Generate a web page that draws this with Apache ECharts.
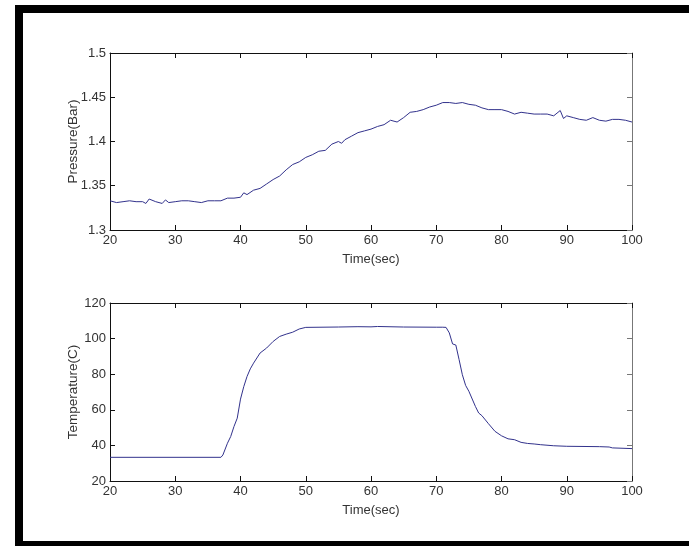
<!DOCTYPE html>
<html>
<head>
<meta charset="utf-8">
<script src="https://cdn.jsdelivr.net/npm/echarts@6/dist/echarts.min.js"></script>
<style>
    html, body { margin: 0; padding: 0; background: #fff; overflow: hidden; }
    #chart { width: 689px; height: 546px; }
</style>
</head>
<body>
<div id="chart"></div>
<script>
/* data */
const xTicks = [20, 100, 10];
const pressureTicks = [1.3, 1.5, 0.05];
const temperatureTicks = [20, 120, 20];

const pressureTime = [20, 21, 22, 23, 24, 25, 25.5, 26, 27, 28, 28.5, 29, 30, 31, 32, 33, 34, 35, 36, 37, 38, 39, 40, 40.5,
    41, 42, 43, 44, 45, 46, 47, 48, 49, 50, 51, 52, 53, 54, 55, 55.5,
    56, 57, 58, 59, 60, 61, 62, 63, 64, 65, 66, 67, 68, 69, 70, 71, 72, 73, 74, 75, 76, 77, 78, 79, 80,
    81, 82, 83, 84, 85, 86, 87, 88, 89, 89.5, 90, 91, 92, 93, 94, 95, 96, 97, 98, 99, 100];
const pressure = [1.333, 1.331, 1.332, 1.333, 1.332, 1.332, 1.330, 1.335, 1.332, 1.330, 1.334, 1.331, 1.332, 1.333, 1.333, 1.332, 1.331, 1.333, 1.333, 1.333, 1.336, 1.336, 1.337, 1.342,
    1.340, 1.345, 1.347, 1.352, 1.357, 1.361, 1.368, 1.374, 1.377, 1.382, 1.385, 1.389, 1.390, 1.397, 1.400, 1.398,
    1.402, 1.406, 1.410, 1.412, 1.414, 1.417, 1.419, 1.424, 1.422, 1.427, 1.433, 1.434, 1.436, 1.439, 1.441, 1.444, 1.444, 1.443, 1.444, 1.442, 1.441, 1.438, 1.436, 1.436, 1.436,
    1.434, 1.431, 1.433, 1.432, 1.431, 1.431, 1.431, 1.429, 1.435, 1.426, 1.429, 1.427, 1.425, 1.424, 1.427, 1.424, 1.423, 1.425, 1.425, 1.424, 1.422];

const tempTime = [20, 37, 37.3, 38, 38.5, 39, 39.5, 40, 40.5, 41, 41.5, 42, 43, 44, 45, 46, 47, 48, 49, 50,
    55, 58, 60, 61, 65, 70, 71, 71.5, 72, 72.5, 73, 73.5, 74, 74.5, 75,
    76, 76.5, 77, 78, 79, 80, 81, 82, 83, 84, 85, 86, 88, 90, 95, 96.5, 97, 100];
const temperature = [33.3, 33.3, 34.6, 41.2, 45, 50.6, 55.3, 66, 73, 78.7, 83, 86.2, 91.9, 94.7, 98.4, 101.2, 102.5, 103.6, 105.4, 106.3,
    106.5, 106.7, 106.6, 106.8, 106.5, 106.4, 106.4, 106.3, 103.2, 97, 96.4, 88.2, 79.7, 73.7, 70.4,
    61.9, 58.2, 56.7, 52.2, 47.9, 45.4, 43.7, 43.2, 41.7, 41.1, 40.8, 40.4, 39.8, 39.5, 39.3, 39.1, 38.6, 38.2];

const zip = (xs, ys) => xs.map((x, i) => [x, ys[i]]);

const labelFont = { color: '#333', fontFamily: '"Liberation Sans", Arial', fontSize: 13 };
const yNameFont = { color: '#333', fontFamily: '"Liberation Sans", Arial', fontSize: 13.5 };
const lineColor = '#32328c';

function xAxes(grid) {
    return [{
        gridIndex: grid, type: 'value', position: 'bottom',
        min: xTicks[0], max: xTicks[1], interval: xTicks[2],
        name: 'Time(sec)', nameLocation: 'middle', nameGap: 23, nameTextStyle: labelFont,
        axisLine: { onZero: false, lineStyle: { color: '#111', width: 1 } },
        axisTick: { inside: true, length: 5, lineStyle: { color: '#111' } },
        axisLabel: Object.assign({ margin: 4 }, labelFont),
        splitLine: { show: false },
    }, {
        gridIndex: grid, type: 'value', position: 'top',
        min: xTicks[0], max: xTicks[1], interval: xTicks[2],
        axisLine: { onZero: false, lineStyle: { color: '#111', width: 1 } },
        axisTick: { inside: true, length: 5, lineStyle: { color: '#111' } },
        axisLabel: { show: false },
        splitLine: { show: false },
    }];
}

function yAxes(grid, ticks, name) {
    return [{
        gridIndex: grid, type: 'value', position: 'left',
        min: ticks[0], max: ticks[1], interval: ticks[2],
        name: name, nameLocation: 'middle', nameRotate: 90, nameGap: 30, nameMoveOverlap: false,
        nameTextStyle: yNameFont,
        axisLine: { show: true, onZero: false, lineStyle: { color: '#111', width: 1 } },
        axisTick: { show: true, inside: true, length: 5, lineStyle: { color: '#111' } },
        axisLabel: Object.assign({ margin: 4 }, labelFont),
        splitLine: { show: false },
    }, {
        gridIndex: grid, type: 'value', position: 'right',
        min: ticks[0], max: ticks[1], interval: ticks[2],
        axisLine: { show: true, onZero: false, lineStyle: { color: '#777', width: 1 } },
        axisTick: { show: true, inside: true, length: 5, lineStyle: { color: '#777' } },
        axisLabel: { show: false },
        splitLine: { show: false },
    }];
}

const chart = echarts.init(document.getElementById('chart'), null, { renderer: 'canvas' });
chart.setOption({
    animation: false,
    backgroundColor: '#fff',
    graphic: [
        { type: 'rect', shape: { x: 15, y: 5, width: 674, height: 8 }, style: { fill: '#000' } },
        { type: 'rect', shape: { x: 15, y: 5, width: 8, height: 541 }, style: { fill: '#000' } },
        { type: 'rect', shape: { x: 15, y: 541, width: 674, height: 5 }, style: { fill: '#000' } },
    ],
    grid: [
        { left: 110, right: 57, top: 53, height: 177 },
        { left: 110, right: 57, top: 303, height: 178 },
    ],
    xAxis: [...xAxes(0), ...xAxes(1)],
    yAxis: [...yAxes(0, pressureTicks, 'Pressure(Bar)'), ...yAxes(1, temperatureTicks, 'Temperature(C)')],
    series: [{
        type: 'line', xAxisIndex: 0, yAxisIndex: 0,
        data: zip(pressureTime, pressure),
        showSymbol: false,
        lineStyle: { color: lineColor, width: 1 },
    }, {
        type: 'line', xAxisIndex: 2, yAxisIndex: 2,
        data: zip(tempTime, temperature),
        showSymbol: false,
        lineStyle: { color: lineColor, width: 1 },
    }],
});
</script>
</body>
</html>
